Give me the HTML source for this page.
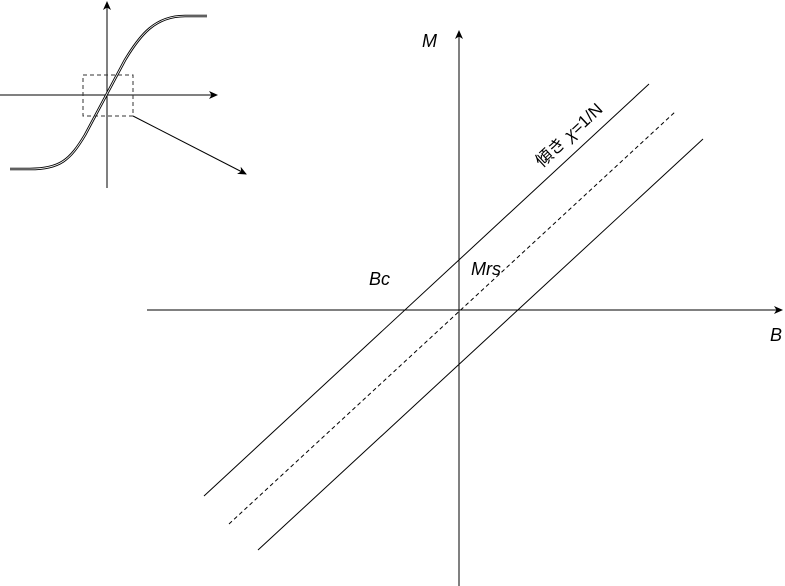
<!DOCTYPE html>
<html><head><style>body{margin:0;background:#fff}svg{display:block}</style></head><body>
<svg width="785" height="586" viewBox="0 0 785 586" xmlns="http://www.w3.org/2000/svg" font-family="Liberation Sans, Noto Sans CJK JP, sans-serif">
<defs><marker id="a" markerWidth="10" markerHeight="10" refX="8" refY="5" orient="auto" markerUnits="userSpaceOnUse"><path d="M0,1 L9,5 L0,9 L2.5,5 Z" fill="#000"/></marker></defs>
<g stroke="#000" fill="none" stroke-width="1">
<line x1="107" y1="188" x2="107" y2="2" marker-end="url(#a)"/>
<line x1="0" y1="95" x2="217" y2="95" marker-end="url(#a)"/>
<path d="M10,169 L30,169 C60,169 70,160 85,135 L125,60 C140,35 155,16 185,16 L207,16" stroke-width="2.6"/>
<path d="M10,169 L30,169 C60,169 70,160 85,135 L125,60 C140,35 155,16 185,16 L207,16" stroke="#fff" stroke-width="0.8"/>
<rect x="83" y="75" width="50" height="41" stroke-dasharray="4,3" stroke="#333"/>
<line x1="133" y1="116" x2="246" y2="174" marker-end="url(#a)"/>
<line x1="147" y1="310" x2="782" y2="310" marker-end="url(#a)"/>
<line x1="459" y1="586" x2="459" y2="31" marker-end="url(#a)"/>
<line x1="204" y1="496" x2="649" y2="84"/>
<line x1="229" y1="524" x2="675" y2="112" stroke-dasharray="4,3"/>
<line x1="258" y1="550" x2="703" y2="139"/>
</g>
<g font-style="italic" font-size="18" fill="#000">
<text x="422" y="47">M</text>
<text x="770" y="341">B</text>
<text x="369" y="285">Bc</text>
<text x="471" y="275">Mrs</text>
</g>
<text x="0" y="0" font-size="17" transform="translate(542,168) rotate(-43)">傾き <tspan font-style="italic">χ</tspan>=1/N</text>
</svg>
</body></html>
